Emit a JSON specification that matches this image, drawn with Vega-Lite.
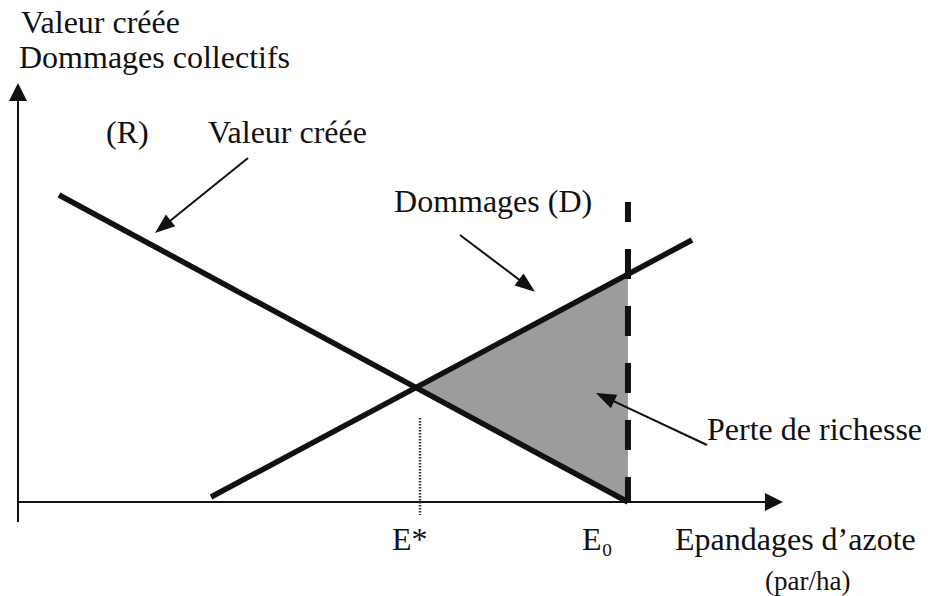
{
  "$schema": "https://vega.github.io/schema/vega-lite/v6.json",
  "width": 930,
  "height": 596,
  "autosize": {"type": "fit", "contains": "padding"},
  "padding": 0,
  "background": "white",
  "config": {"view": {"stroke": null}},
  "encoding": {
    "x": {"field": "x", "type": "quantitative", "scale": {"domain": [-2.35, 119.06], "nice": false, "zero": false}, "axis": null},
    "y": {"field": "y", "type": "quantitative", "scale": {"domain": [-22.38, 119.52], "nice": false, "zero": false}, "axis": null}
  },
  "layer": [
    {
      "data": {"values": [{"x": 51.96, "y": 27.26, "y2": 27.26}, {"x": 79.63, "y": 54.29, "y2": 0}]},
      "mark": {"type": "area", "color": "#9c9c9c", "opacity": 1},
      "encoding": {"y2": {"field": "y2"}}
    },
    {
      "data": {"values": [
        {"name": "axe vertical", "x": 0, "y": -4.76, "x2": 0, "y2": 97.62},
        {"name": "axe horizontal", "x": 0, "y": 0, "x2": 98.69, "y2": 0}
      ]},
      "mark": {"type": "rule", "color": "#111", "strokeWidth": 2},
      "encoding": {"x2": {"field": "x2"}, "y2": {"field": "y2"}}
    },
    {
      "data": {"values": [
        {"name": "R", "x": 5.35, "y": 73.10, "x2": 79.63, "y2": 0},
        {"name": "D", "x": 25.20, "y": 1.19, "x2": 87.99, "y2": 62.38}
      ]},
      "mark": {"type": "rule", "color": "#111", "strokeWidth": 5.5, "strokeCap": "butt"},
      "encoding": {"x2": {"field": "x2"}, "y2": {"field": "y2"}}
    },
    {
      "data": {"values": [{"name": "E0", "x": 79.63, "y": 71.43, "x2": 79.63, "y2": 0}]},
      "mark": {"type": "rule", "color": "#111", "strokeWidth": 6, "strokeDash": [30, 27], "strokeDashOffset": 10, "strokeCap": "butt"},
      "encoding": {"x2": {"field": "x2"}, "y2": {"field": "y2"}}
    },
    {
      "data": {"values": [{"name": "E*", "x": 52.48, "y": 20.0, "x2": 52.48, "y2": -3.1}]},
      "mark": {"type": "rule", "color": "#333", "strokeWidth": 2.5, "strokeDash": [1.5, 1.5]},
      "encoding": {"x2": {"field": "x2"}, "y2": {"field": "y2"}}
    },
    {
      "data": {"values": [
        {"name": "fleche valeur", "x": 30.03, "y": 81.90, "x2": 18.90, "y2": 65.55},
        {"name": "fleche dommages", "x": 57.70, "y": 63.57, "x2": 66.45, "y2": 51.52},
        {"name": "fleche perte", "x": 89.95, "y": 13.57, "x2": 76.63, "y2": 24.95}
      ]},
      "mark": {"type": "rule", "color": "#111", "strokeWidth": 2},
      "encoding": {"x2": {"field": "x2"}, "y2": {"field": "y2"}}
    },
    {
      "data": {"values": [{"x": 18.90, "y": 65.55}]},
      "mark": {"type": "point", "shape": "M0,-1L0.75,1L-0.75,1Z", "size": 400, "filled": true, "color": "#111", "opacity": 1, "angle": 231}
    },
    {
      "data": {"values": [{"x": 66.45, "y": 51.52}]},
      "mark": {"type": "point", "shape": "M0,-1L0.75,1L-0.75,1Z", "size": 400, "filled": true, "color": "#111", "opacity": 1, "angle": 127}
    },
    {
      "data": {"values": [{"x": 76.63, "y": 24.95}]},
      "mark": {"type": "point", "shape": "M0,-1L0.75,1L-0.75,1Z", "size": 400, "filled": true, "color": "#111", "opacity": 1, "angle": 295}
    },
    {
      "data": {"values": [{"x": 0, "y": 97.62}]},
      "mark": {"type": "point", "shape": "M0,-1L1,1L-1,1Z", "size": 324, "filled": true, "color": "#111", "opacity": 1, "angle": 0}
    },
    {
      "data": {"values": [{"x": 98.69, "y": 0}]},
      "mark": {"type": "point", "shape": "M0,-1L1,1L-1,1Z", "size": 324, "filled": true, "color": "#111", "opacity": 1, "angle": 90}
    },
    {
      "data": {"values": [
        {"x": 0.39, "y": 111.67, "label": "Valeur créée"},
        {"x": 0.13, "y": 103.33, "label": "Dommages collectifs"},
        {"x": 11.49, "y": 85.48, "label": "(R)"},
        {"x": 24.80, "y": 85.48, "label": "Valeur créée"},
        {"x": 49.09, "y": 69.05, "label": "Dommages (D)"},
        {"x": 89.95, "y": 14.76, "label": "Perte de richesse"},
        {"x": 48.83, "y": -11.43, "label": "E*"},
        {"x": 73.63, "y": -11.43, "label": "E₀"},
        {"x": 85.77, "y": -11.43, "label": "Epandages d’azote"}
      ]},
      "mark": {"type": "text", "align": "left", "baseline": "alphabetic", "font": "Liberation Serif", "fontSize": 32, "color": "#111"},
      "encoding": {"text": {"field": "label"}}
    },
    {
      "data": {"values": [{"x": 97.52, "y": -20.95, "label": "(par/ha)"}]},
      "mark": {"type": "text", "align": "left", "baseline": "alphabetic", "font": "Liberation Serif", "fontSize": 27, "color": "#111"},
      "encoding": {"text": {"field": "label"}}
    }
  ]
}
